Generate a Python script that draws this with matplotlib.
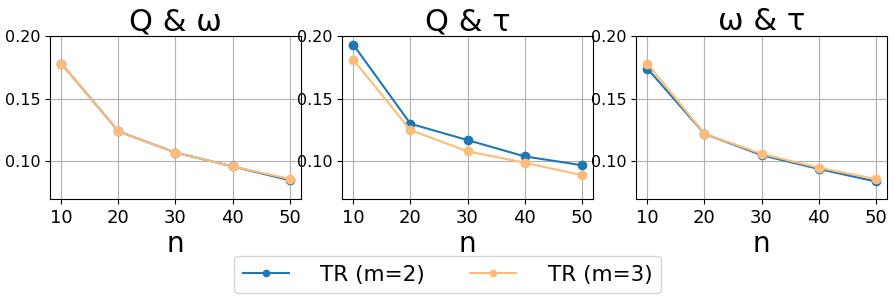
import matplotlib
matplotlib.use("Agg")
import matplotlib.pyplot as plt

n = [10, 20, 30, 40, 50]
titles = ["Q & ω", "Q & τ", "ω & τ"]
m2 = [
    [0.178, 0.124, 0.107, 0.096, 0.085],
    [0.193, 0.130, 0.117, 0.104, 0.097],
    [0.174, 0.122, 0.105, 0.094, 0.084],
]
m3 = [
    [0.178, 0.124, 0.107, 0.096, 0.086],
    [0.181, 0.125, 0.108, 0.099, 0.089],
    [0.178, 0.122, 0.106, 0.095, 0.086],
]
labels = ["TR (m=2)", "TR (m=3)"]
yticks = [0.10, 0.15, 0.20]

fig = plt.figure(figsize=(8.95, 3.04), dpi=100)
lefts = [50, 342, 636]
width = 251
W, H = 895, 304
lines = []
for i in range(3):
    ax = fig.add_axes([lefts[i] / W, (H - 199) / H, width / W, 163 / H])
    l1, = ax.plot(n, m2[i], marker="o", color="#1f77b4", markersize=6)
    l2, = ax.plot(n, m3[i], marker="o", color="#ffbb78", markersize=6)
    lines = [l1, l2]
    ax.set_title(titles[i], fontsize=22, pad=4)
    ax.set_ylim(0.07, 0.20)
    ax.set_yticks(yticks)
    ax.set_xticks(n)
    ax.tick_params(axis="y", labelsize=11.5)
    ax.tick_params(axis="x", labelsize=13)
    ax.set_xlabel("n", fontsize=20, labelpad=2)
    ax.grid(True)

fig.legend(lines, labels, loc="lower center", ncol=2, fontsize=15.5,
           bbox_to_anchor=(0.5, 0.0), columnspacing=2.1, handlelength=2.15,
           handletextpad=1.45, markerscale=0.75)
fig.savefig("out.png", dpi=100)
